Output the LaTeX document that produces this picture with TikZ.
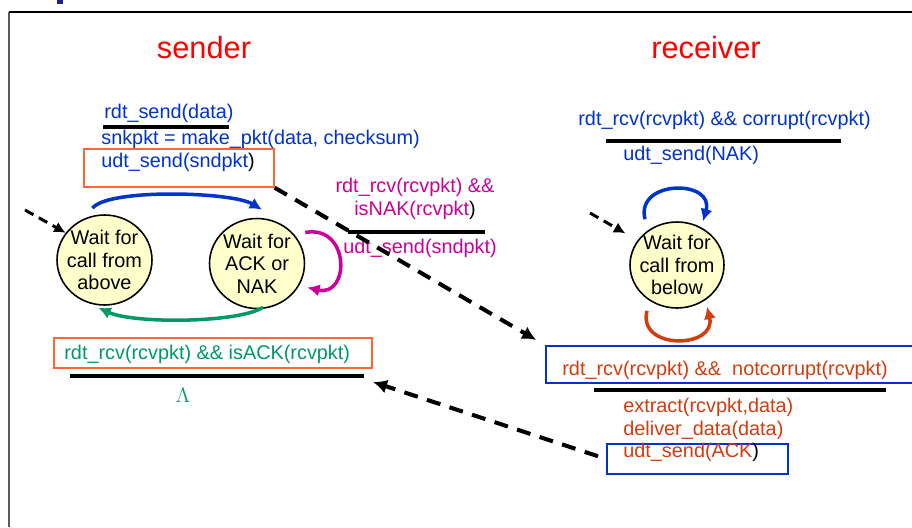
\documentclass[tikz,border=0pt]{standalone}
\usepackage{fontspec}
\setmainfont{Liberation Sans}
\usetikzlibrary{arrows.meta,shapes.geometric,calc}

\definecolor{trblue}{RGB}{0,51,204}
\definecolor{trmag}{RGB}{204,0,153}
\definecolor{trgreen}{RGB}{0,153,102}
\definecolor{trorange}{RGB}{210,60,15}
\definecolor{boxorange}{RGB}{255,102,51}
\definecolor{waitfill}{RGB}{255,255,204}
\definecolor{framegray}{RGB}{90,90,90}
\definecolor{titlenavy}{RGB}{30,30,140}

\newcommand{\trfont}{\fontsize{11.3}{12.8}\selectfont}

\tikzset{
    waitst/.style={ellipse, draw, line width=0.9pt, fill=waitfill, inner sep=-3pt,
        minimum width=1.9cm, minimum height=1.8cm, align=center, font=\trfont},
    trn/.style={inner sep=0pt, anchor=west, align=left, font=\trfont},
    bar/.style={line width=2pt},
    tbox/.style={draw, line width=0.8pt, inner sep=0pt},
    loopar/.style={line width=2pt, -{Latex[length=7pt,width=7pt]}},
    initar/.style={line width=1.7pt, dash pattern=on 5.5pt off 3.5pt, -{Latex[length=6.5pt,width=6.5pt]}},
    msgar/.style={line width=2.3pt, dash pattern=on 8pt off 5.5pt, -{Latex[length=8pt,width=8pt]}},
    sidetitle/.style={inner sep=0pt, text=red, font=\fontsize{17.5}{20}\selectfont}
}

\begin{document}
\begin{tikzpicture}[x=0.02cm, y=-0.02cm]
    \useasboundingbox (0,0) rectangle (912,527);
    \clip (0,0) rectangle (912,527);

    % Slide frame
    \fill[titlenavy] (57,0) rectangle (63,4);
    \draw[line width=1.2pt, framegray] (9,12) -- (9,527);
    \draw[line width=0.9pt] (9,12) -- (912,12);

    % Titles
    \node[sidetitle] (sndtitle) at (204,48) {sender};
    \node[sidetitle] (rcvtitle) at (706,48) {receiver};

    % States
    \node[waitst] (wfa) at (104.5,260) {Wait for\\call from\\above};
    \node[waitst] (wfack) at (257,263.5) {Wait for\\ACK or\\NAK};
    \node[waitst, minimum width=1.88cm, minimum height=1.72cm] (wfb) at (677,265) {Wait for\\call from\\below};

    % Sender: rdt_send(data)
    \node[trn, text=trblue] (sendev) at (104,113) {rdt\_send(data)};
    \draw[bar] (103,127) -- (229,127);
    \node[tbox, draw=boxorange, minimum width=3.8cm, minimum height=0.76cm] (sndbox) at (179,168) {};
    \node[trn, text=trblue] (sendact) at (101,151) {snkpkt = make\_pkt(data, checksum)\\udt\_send(sndpkt\textcolor{black}{)}};

    % Sender: NAK
    \node[inner sep=0pt, align=center, font=\trfont, text=trmag] (nakev) at (415,199) {rdt\_rcv(rcvpkt) \&\&\\isNAK(rcvpkt\textcolor{black}{)}};
    \draw[bar] (348,232) -- (485,232);
    \node[trn, text=trmag] (nakact) at (343,248) {udt\_send(sndpkt)};

    % Sender: ACK
    \node[tbox, draw=boxorange, minimum width=6.36cm, minimum height=0.6cm] (ackbox) at (213,353) {};
    \node[trn, text=trgreen] (ackev) at (64,354) {rdt\_rcv(rcvpkt) \&\& isACK(rcvpkt)};
    \draw[bar] (70,376) -- (364,376);
    \node[inner sep=0pt, text=trgreen, font=\fontsize{13}{14}\selectfont] (ackact) at (183,395) {$\Lambda$};

    % Receiver: corrupt
    \node[trn, text=trblue] (corev) at (578,120) {rdt\_rcv(rcvpkt) \&\& corrupt(rcvpkt)};
    \draw[bar] (606,141) -- (841,141);
    \node[trn, text=trblue] (coract) at (623,155) {udt\_send(NAK)};

    % Receiver: notcorrupt
    \node[tbox, draw=trblue, minimum width=7.8cm, minimum height=0.74cm] (okbox) at (741,364.5) {};
    \node[trn, text=trorange] (okev) at (562,370) {rdt\_rcv(rcvpkt) \&\& \ notcorrupt(rcvpkt)};
    \draw[bar] (594,390) -- (886,390);
    \node[tbox, draw=trblue, minimum width=3.62cm, minimum height=0.6cm] (ackout) at (697.5,459) {};
    \node[trn, text=trorange] (okact) at (623,430) {extract(rcvpkt,data)\\deliver\_data(data)\\udt\_send(ACK\textcolor{black}{)}};

    % Sender transitions
    \coordinate (sndin) at (25,210);
    \draw[initar] (sndin) -- (wfa.145);
    \draw[loopar, trblue] ($(wfa.north)+(-12,-6)$) .. controls +(15,-20) and +(-30,-18) .. ($(wfack.north)+(5,-8)$);
    \draw[loopar, trgreen] ($(wfack.south)+(6,-2)$) .. controls +(-25,16) and +(35,16) .. ($(wfa.south)+(-6,2)$);
    \draw[loopar, trmag] ($(wfack.east)+(0,-31)$) .. controls +(45,-8) and +(43,10) .. ($(wfack.east)+(2,24)$);

    % Receiver transitions
    \coordinate (rcvin) at (590,213);
    \draw[initar, shorten >=8pt] (rcvin) -- (wfb.148);
    \draw[loopar, trblue] ($(wfb.north)+(-32,-2)$) .. controls +(-10,-40) and +(12,-42) .. ($(wfb.north)+(26,0)$);
    \draw[loopar, trorange] ($(wfb.south)+(-30,2)$) .. controls +(-10,40) and +(10,42) .. ($(wfb.south)+(30,-2)$);

    % Packets between the two sides
    \draw[msgar, shorten >=6pt] (sndbox.south east) -- (okbox.north west);
    \coordinate (ackend) at (373,382);
    \draw[msgar, shorten <=5pt] (ackout.west) -- (ackend);
\end{tikzpicture}
\end{document}
